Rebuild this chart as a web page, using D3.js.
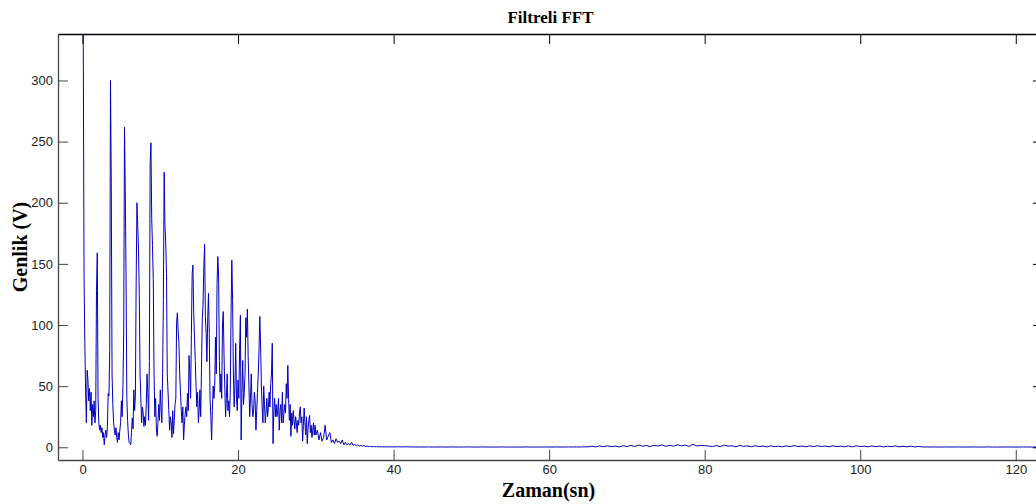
<!DOCTYPE html>
<html>
<head>
<meta charset="utf-8">
<script src="https://cdn.jsdelivr.net/npm/d3@7"></script>
<style>
  body { margin: 0; background: #fff; }
  .tick text { font-family: "Liberation Sans", Arial, sans-serif; font-size: 13px; fill: #222; }
  .lbl { font-family: "Liberation Serif", "Times New Roman", serif; font-weight: bold; fill: #000; }
</style>
</head>
<body>
<div id="chart"></div>
<script>
// amplitude, 0 .. 29.9 s, one value every 0.1 s (one row per second)
const ampFine = [
  520, 330, 140, 85, 45, 20, 63, 55, 38, 48,
  30, 45, 18, 35, 25, 38, 20, 30, 128, 159,
  40, 20, 14, 18, 12, 16, 8, 12, 2, 10,
  14, 8, 16, 44, 42, 80, 300, 216, 60, 35,
  20, 14, 10, 16, 8, 4, 12, 6, 14, 20,
  38, 25, 50, 95, 262, 209, 140, 40, 22, 10,
  4, 3, 2, 12, 24, 15, 47, 30, 42, 135,
  200, 182, 162, 125, 60, 40, 20, 33, 28, 17,
  25, 18, 35, 60, 45, 22, 71, 232, 249, 187,
  165, 137, 60, 25, 40, 15, 9, 20, 35, 22,
  47, 33, 20, 60, 120, 225, 182, 168, 142, 60,
  45, 30, 14, 25, 20, 8, 30, 11, 22, 35,
  40, 102, 110, 95, 85, 60, 45, 30, 20, 33,
  6, 18, 28, 33, 25, 44, 30, 75, 60, 40,
  92, 142, 149, 110, 90, 71, 50, 33, 45, 20,
  30, 47, 25, 65, 105, 117, 147, 166, 107, 93,
  70, 105, 126, 93, 40, 25, 6, 30, 50, 40,
  50, 90, 60, 134, 156, 140, 71, 45, 60, 40,
  101, 111, 75, 47, 25, 40, 60, 30, 38, 25,
  45, 108, 153, 120, 60, 33, 50, 85, 40, 30,
  55, 40, 80, 108, 6, 45, 71, 35, 45, 60,
  106, 90, 113, 75, 50, 25, 40, 60, 35, 25,
  30, 45, 38, 14, 30, 45, 60, 80, 107, 83,
  50, 33, 20, 50, 35, 20, 28, 40, 25, 33,
  45, 33, 52, 60, 85, 3, 30, 40, 25, 35,
  25, 30, 40, 14, 30, 35, 20, 45, 20, 28,
  35, 28, 52, 40, 67, 40, 22, 35, 9, 28,
  18, 30, 22, 15, 25, 20, 12, 22, 18, 28,
  33, 20, 25, 5, 18, 32, 20, 10, 25, 3,
  15, 22, 26, 12, 18, 8, 14, 20, 10, 18
];
const fineStep = 0.1;

// amplitude, 30 .. 40 s, one value every 0.2 s
const ampMid = [
  10, 14, 6, 12, 5, 8, 18, 6, 9, 12,
  4, 6, 3, 7, 4, 5, 3, 6, 2, 4,
  2, 3, 2, 4, 1.5, 2.5, 1, 2, 1, 1.5,
  0.8, 1.5, 0.6, 1, 0.5, 0.8, 0.4, 0.7, 0.4, 0.6,
  0.3, 0.5, 0.3, 0.4, 0.3, 0.4, 0.3, 0.3, 0.4, 0.3,
  0.3
];
const midStart = 30, midStep = 0.2;

// low tail, 40.5 .. 125 s, one value every 0.5 s
const tail = [
  0.4, 0.3, 0.4, 0.3, 0.3, 0.2, 0.3, 0.2, 0.3, 0.2,
  0.2, 0.3, 0.2, 0.2, 0.3, 0.2, 0.2, 0.2, 0.3, 0.2,
  0.2, 0.2, 0.3, 0.2, 0.2, 0.2, 0.2, 0.3, 0.2, 0.2,
  0.2, 0.2, 0.2, 0.3, 0.2, 0.2, 0.2, 0.2, 0.3, 0.2,
  0.2, 0.3, 0.2, 0.2, 0.3, 0.2, 0.3, 0.2, 0.4, 0.3,
  0.9, 0.3, 1.1, 0.4, 1.2, 0.5, 1.0, 0.3, 1.3, 0.6,
  1.5, 0.7, 1.8, 0.9, 1.4, 0.6, 1.7, 1.0, 2.0, 0.8,
  1.6, 0.9, 2.1, 1.2, 1.8, 0.7, 2.4, 1.1, 1.6, 1.3,
  1.0, 0.6, 1.4, 0.5, 1.8, 0.9, 1.3, 0.4, 1.5, 0.8,
  1.1, 0.4, 1.3, 0.6, 1.0, 0.3, 1.2, 0.5, 0.9, 0.4,
  1.1, 0.5, 1.4, 0.6, 1.0, 0.4, 1.2, 0.5, 1.3, 0.6,
  1.0, 0.4, 1.2, 0.5, 0.9, 0.4, 1.1, 0.3, 1.2, 0.6,
  0.9, 0.4, 1.1, 0.5, 1.0, 0.3, 0.9, 0.5, 1.1, 0.4,
  0.8, 0.4, 0.9, 0.3, 0.7, 0.3, 0.3, 0.2, 0.3, 0.2,
  0.2, 0.3, 0.2, 0.2, 0.3, 0.2, 0.2, 0.2, 0.3, 0.2,
  0.2, 0.2, 0.3, 0.2, 0.2, 0.2, 0.2, 0.3, 0.2, 0.2,
  0.2, 0.3, 0.2, 0.2, 0.2, 0.3, 0.2, 0.2, 0.2, 0.2
];
const tailStart = 40.5, tailStep = 0.5;

const xTicks = [0, 20, 40, 60, 80, 100, 120];
const yTicks = [0, 50, 100, 150, 200, 250, 300];
const title = 'Filtreli FFT';
const xLabel = 'Zaman(sn)';
const yLabel = 'Genlik (V)';

const width = 1036, height = 504;
// axes box (right edge falls just outside the picture)
const box = { left: 58, top: 34, right: 1043, bottom: 460 };

const x = d3.scaleLinear().domain([-3.15, 123.5]).range([box.left, box.right]);
const y = d3.scaleLinear().domain([-10.4, 338]).range([box.bottom, box.top]);

const points = ampFine.map((v, i) => [i * fineStep, v])
  .concat(ampMid.map((v, i) => [midStart + i * midStep, v]))
  .concat(tail.map((v, i) => [tailStart + i * tailStep, v]));

const svg = d3.select('#chart').append('svg')
  .attr('width', width)
  .attr('height', height);

svg.append('clipPath').attr('id', 'plot-clip')
  .append('rect')
  .attr('x', box.left).attr('y', box.top)
  .attr('width', box.right - box.left).attr('height', box.bottom - box.top);

// the signal
const line = d3.line().x(d => x(d[0])).y(d => y(d[1]));
svg.append('path')
  .datum(points)
  .attr('clip-path', 'url(#plot-clip)')
  .attr('fill', 'none')
  .attr('stroke', '#0000c0')
  .attr('stroke-width', 1)
  .attr('d', line);

// axes, matlab style: ticks point inwards, box all round
const styleAxis = (g, col) => {
  g.select('.domain').attr('stroke', col).attr('stroke-width', 1.3);
  g.selectAll('.tick line').attr('stroke', col);
};

svg.append('g')
  .attr('transform', `translate(0,${box.bottom})`)
  .call(d3.axisBottom(x).tickValues(xTicks).tickSize(-10).tickSizeOuter(0).tickPadding(5))
  .call(g => styleAxis(g, '#444'));

svg.append('g')
  .attr('transform', `translate(${box.left},0)`)
  .call(d3.axisLeft(y).tickValues(yTicks).tickSize(-10).tickSizeOuter(0).tickPadding(5))
  .call(g => styleAxis(g, '#444'));

svg.append('g')
  .attr('transform', `translate(0,${box.top})`)
  .call(d3.axisTop(x).tickValues(xTicks).tickSize(-10).tickSizeOuter(0).tickFormat(''))
  .call(g => styleAxis(g, '#000'));

svg.append('g')
  .attr('transform', `translate(${box.right},0)`)
  .call(d3.axisRight(y).tickValues(yTicks).tickSize(-10).tickSizeOuter(0).tickFormat(''))
  .call(g => styleAxis(g, '#000'));

svg.selectAll('.tick text').attr('fill', '#222');

// labels
const midX = (box.left + box.right) / 2;
svg.append('text').attr('class', 'lbl')
  .attr('x', midX).attr('y', 23)
  .attr('text-anchor', 'middle')
  .style('font-size', '17px')
  .text(title);

svg.append('text').attr('class', 'lbl')
  .attr('x', midX - 2).attr('y', 497)
  .attr('text-anchor', 'middle')
  .style('font-size', '20px')
  .text(xLabel);

svg.append('text').attr('class', 'lbl')
  .attr('transform', `translate(27,${(box.top + box.bottom) / 2}) rotate(-90)`)
  .attr('text-anchor', 'middle')
  .style('font-size', '20px')
  .text(yLabel);
</script>
</body>
</html>
